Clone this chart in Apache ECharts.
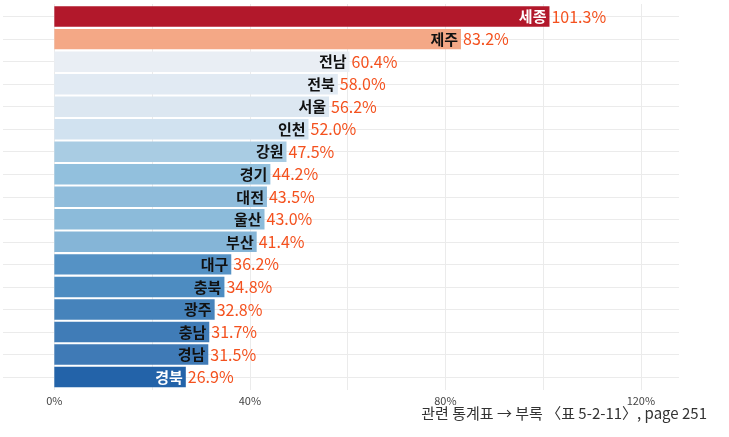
<!DOCTYPE html>
<html>
<head>
<meta charset="utf-8">
<script src="https://cdn.jsdelivr.net/npm/echarts@6/dist/echarts.min.js"></script>
<style>
html,body{margin:0;padding:0;background:#fff;}
#c{width:729px;height:437px;}
</style>
</head>
<body>
<div id="c"></div>
<script>
const regions = ['세종','제주','전남','전북','서울','인천','강원','경기','대전','울산','부산','대구','충북','광주','충남','경남','경북'];
const values = [101.3,83.2,60.4,58.0,56.2,52.0,47.5,44.2,43.5,43.0,41.4,36.2,34.8,32.8,31.7,31.5,26.9];
const barColors = ['#b2182b','#f4a886','#e9eef4','#e1eaf3','#dce7f1','#d1e2f0','#a9cce3','#92c0dd','#8fbcdb','#8cbbda','#85b5d7','#5592c5','#4d8cc1','#4683bb','#407cb7','#3f7ab6','#2363a9'];
const nameColors = ['#ffffff','#111','#111','#111','#111','#111','#111','#111','#111','#111','#111','#111','#111','#111','#111','#111','#ffffff'];
const xTickLabels = [0,40,80,120];
const xGridValues = [0,20,40,60,80,100,120];
const sourceText = '관련 통계표 → 부록 〈표 5-2-11〉, page 251';

const FONT = '"Noto Sans CJK KR", "Noto Sans", sans-serif';
const XMIN = -10.5, XMAX = 127.8;
const chart = echarts.init(document.getElementById('c'), null, {renderer:'canvas'});

chart.setOption({
  backgroundColor:'#fff',
  animation:false,
  grid:[
    {left:3, right:50, top:4, bottom:47},
    {left:3, right:50, top:16.6, bottom:60}
  ],
  xAxis:[
    {type:'value', gridIndex:0, min:XMIN, max:XMAX,
     axisLine:{show:false},
     axisTick:{show:false, customValues:xGridValues},
     splitLine:{show:true, lineStyle:{color:'#ebebeb', width:1}},
     axisLabel:{show:true, customValues:xTickLabels, formatter:v=>v+'%', color:'#444', fontSize:11, fontFamily:FONT, margin:5}
    },
    {type:'value', gridIndex:1, min:XMIN, max:XMAX, show:false,
     splitLine:{show:false}}
  ],
  yAxis:[
    {type:'value', gridIndex:0, min:0, max:1, show:false, splitLine:{show:false}},
    {type:'category', gridIndex:1, data:regions, inverse:true, boundaryGap:false,
     axisLine:{show:false}, axisTick:{show:false, interval:0}, axisLabel:{show:false},
     splitLine:{show:true, interval:0, lineStyle:{color:'#ebebeb', width:1}}
    }
  ],
  series:[
    {type:'bar', xAxisIndex:1, yAxisIndex:1, clip:false, barWidth:'91%',
     data: values.map((v,i)=>({value:v, itemStyle:{color:barColors[i]},
        label:{color:nameColors[i]}})),
     label:{show:true, position:'insideRight', distance:3, fontFamily:FONT, fontSize:15, fontWeight:'bold',
            formatter:p=>regions[p.dataIndex]}
    },
    {type:'bar', xAxisIndex:1, yAxisIndex:1, clip:false, barWidth:'91%', barGap:'-100%',
     data: values,
     itemStyle:{color:'rgba(0,0,0,0)'},
     label:{show:true, position:'right', distance:2, fontFamily:FONT, fontSize:16, color:'#f4511e',
            formatter:p=>p.value.toFixed(1)+'%'}
    }
  ],
  graphic:[
    {type:'text', right:22, top:406, style:{text:sourceText, fontFamily:FONT, fontSize:15, fill:'#333', textAlign:'right'}}
  ]
});
</script>
</body>
</html>
